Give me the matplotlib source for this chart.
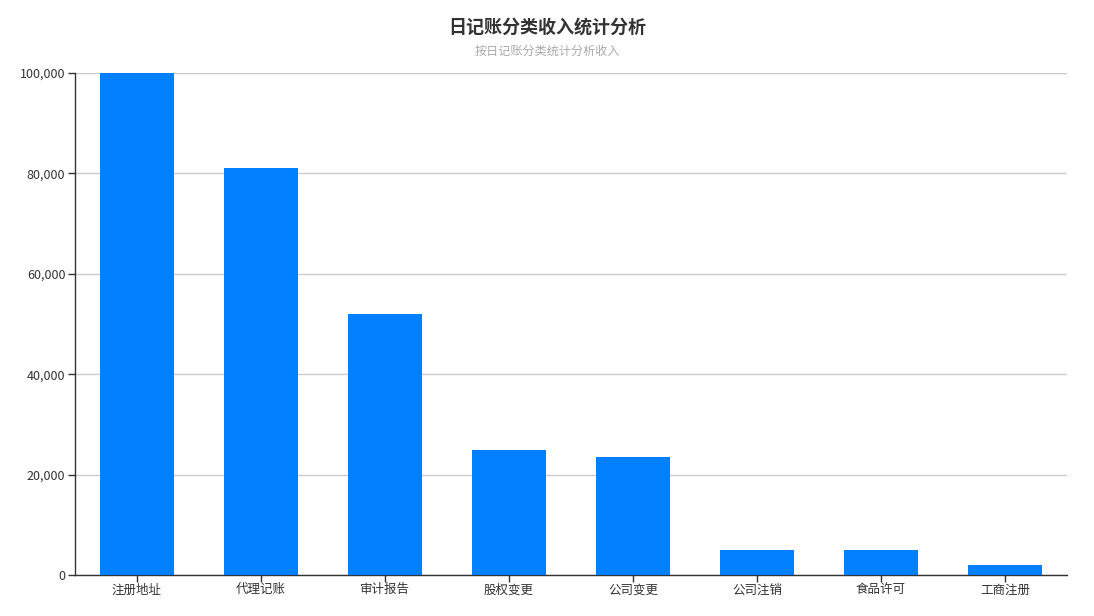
import matplotlib
matplotlib.use("Agg")
import matplotlib.pyplot as plt
from matplotlib.ticker import FuncFormatter

plt.rcParams['font.family'] = ['Noto Sans CJK SC', 'DejaVu Sans']

# data
categories = ["注册地址", "代理记账", "审计报告", "股权变更", "公司变更", "公司注销", "食品许可", "工商注册"]
income = [100000, 81000, 52000, 25000, 23500, 5000, 5000, 2000]
y_ticks = [0, 20000, 40000, 60000, 80000, 100000]

fig = plt.figure(figsize=(10.94, 6.16), dpi=100)
ax = fig.add_axes([75/1094, 41/616, 992/1094, 502/616])

x = range(len(categories))
ax.bar(x, income, width=0.6, color="#007fff", zorder=3)

ax.set_xlim(-0.5, len(categories) - 0.5)
ax.set_ylim(0, 100000)
ax.set_yticks(y_ticks)
ax.yaxis.set_major_formatter(FuncFormatter(lambda v, p: f"{int(v):,}"))
ax.set_xticks(list(x))
ax.set_xticklabels(categories)

ax.grid(axis="y", color="#cccccc", linewidth=1, zorder=0)
for s in ["top", "right"]:
    ax.spines[s].set_visible(False)
for s in ["left", "bottom"]:
    ax.spines[s].set_color("#333333")
    ax.spines[s].set_linewidth(1)
ax.tick_params(axis="both", colors="#333333", labelsize=9, length=5, width=1)
ax.tick_params(axis="x", pad=1)
ax.tick_params(axis="y", pad=2)

fig.text(0.5, 1 - 27/616, "日记账分类收入统计分析", ha="center", va="center",
         fontsize=13, fontweight="bold", color="#333333")
fig.text(0.5, 1 - 51/616, "按日记账分类统计分析收入", ha="center", va="center",
         fontsize=8.7, color="#aaaaaa")

fig.savefig("out.png", dpi=100)
